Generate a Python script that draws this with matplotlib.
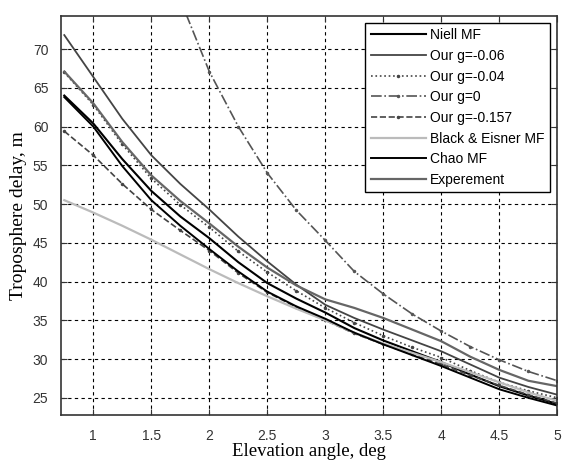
# Troposphere delay vs elevation angle -- comparison of mapping functions
import numpy as np
import matplotlib.pyplot as plt

# elevation angle, deg
ugol = [0.75, 1.0, 1.25, 1.5, 1.75, 2.0, 2.25, 2.5, 2.75, 3.0,
        3.25, 3.5, 3.75, 4.0, 4.25, 4.5, 4.75, 5.0]

# delays, m
niell = [64.0, 60.4, 55.8, 51.7, 48.4, 45.6, 42.5, 39.8, 37.8, 36.0,
         34.0, 32.4, 31.0, 29.6, 28.0, 26.5, 25.3, 24.2]
g_006 = [71.8, 66.4, 61.0, 56.3, 52.6, 49.3, 45.8, 42.6, 39.6, 37.0,
         35.3, 33.8, 32.4, 31.0, 29.3, 27.6, 26.4, 25.4]
g_004 = [67.0, 62.8, 57.7, 53.3, 49.9, 47.0, 43.9, 41.2, 38.8, 36.6,
         34.7, 33.0, 31.5, 30.2, 28.5, 27.0, 25.9, 25.0]
g_0157 = [59.4, 56.3, 52.6, 49.3, 46.6, 44.0, 41.1, 38.6, 36.7, 35.0,
          33.3, 31.9, 30.6, 29.3, 27.9, 26.6, 25.4, 24.3]
black_eisner = [50.5, 48.9, 47.2, 45.4, 43.5, 41.6, 39.8, 38.1, 36.5, 35.0,
                33.4, 32.0, 30.8, 29.6, 28.3, 27.0, 25.7, 24.6]
chao = [63.8, 60.0, 54.9, 50.5, 47.2, 44.2, 41.3, 38.7, 36.8, 35.2,
        33.4, 31.9, 30.5, 29.1, 27.6, 26.1, 25.0, 24.0]
experiment = [67.1, 63.0, 58.0, 53.7, 50.4, 47.5, 44.5, 41.8, 39.5, 37.7,
              36.6, 35.3, 33.8, 32.3, 30.3, 28.6, 27.2, 26.5]

# g=0 starts above the plot window
ugol_g0 = [1.8, 2.0, 2.25, 2.5, 2.75, 3.0, 3.25, 3.5, 3.75, 4.0,
           4.25, 4.5, 4.75, 5.0]
g_0 = [74.5, 67.1, 60.0, 54.0, 49.2, 45.3, 41.3, 38.4, 35.8, 33.6,
       31.6, 29.9, 28.4, 27.2]

fig = plt.figure(figsize=(5.63, 4.62), dpi=100)
ax = fig.add_axes([0.108, 0.102, 0.882, 0.864])

ax.plot(ugol, niell, color='black', lw=1.5, label='Niell MF')
ax.plot(ugol, g_006, color='#444444', lw=1.3, label='Our g=-0.06')
ax.plot(ugol, g_004, color='#444444', lw=1.2, ls=':', marker='.', markersize=3,
        label='Our g=-0.04')
ax.plot(ugol_g0, g_0, color='#555555', lw=1.2, ls='-.', marker='.', markersize=3,
        label='Our g=0')
ax.plot(ugol, g_0157, color='#444444', lw=1.2, ls='--', marker='.', markersize=3,
        label='Our g=-0.157')
ax.plot(ugol, black_eisner, color='#bbbbbb', lw=1.6, label='Black & Eisner MF')
ax.plot(ugol, chao, color='black', lw=1.4, label='Chao MF')
ax.plot(ugol, experiment, color='#666666', lw=1.6, label='Experement')

ax.set_xlim(0.72, 5.0)
ax.set_ylim(22.8, 74.3)
ax.set_xticks([1, 1.5, 2, 2.5, 3, 3.5, 4, 4.5, 5])
ax.set_xticklabels(['1', '1.5', '2', '2.5', '3', '3.5', '4', '4.5', '5'])
ax.set_yticks([25, 30, 35, 40, 45, 50, 55, 60, 65, 70])

ax.grid(True, color='black', ls=(0, (3, 3)), lw=0.8)
ax.tick_params(direction='in', top=True, right=True, length=4,
               labelsize=10, colors='#333333')
ax.tick_params(axis='x', pad=10)
ax.tick_params(axis='y', pad=9)
for s in ax.spines.values():
    s.set_color('#333333')
    s.set_linewidth(1.2)
for lab in ax.get_xticklabels() + ax.get_yticklabels():
    lab.set_family('Liberation Sans')

ax.set_xlabel('Elevation angle, deg', family='Liberation Serif', fontsize=13.5,
              labelpad=0)
ax.set_ylabel('Troposphere delay, m', family='Liberation Serif', fontsize=14,
              labelpad=4)

leg = ax.legend(loc='upper right', prop={'family': 'Liberation Sans', 'size': 10},
                fancybox=False, framealpha=1, edgecolor='black',
                handlelength=4.0, labelspacing=0.48, borderaxespad=0.5,
                handletextpad=0.3, borderpad=0.4)
leg.get_frame().set_linewidth(1.0)

plt.savefig('out.png', dpi=100)
